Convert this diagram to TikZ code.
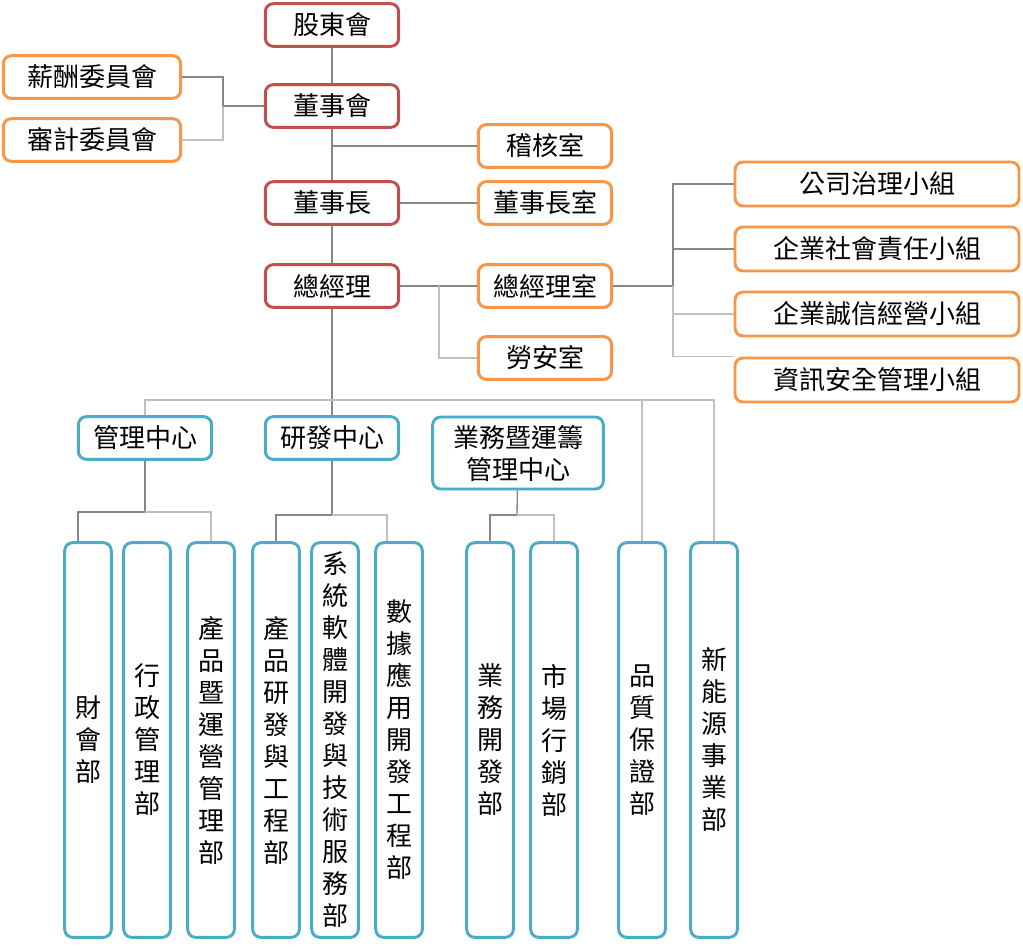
\documentclass[tikz,border=0pt]{standalone}
\usepackage{fontspec}
\setmainfont{Noto Sans CJK TC}
\usepackage{tikz}
\definecolor{boardred}{RGB}{192,80,77}
\definecolor{unitorange}{RGB}{247,150,70}
\definecolor{deptblue}{RGB}{75,172,198}
\definecolor{linegray}{RGB}{134,134,134}
\definecolor{linelight}{RGB}{192,192,192}
\tikzset{
  base/.style    = {draw, line width=2.2pt, rounded corners=6pt, fill=white,
                    inner sep=0pt, align=center,
                    font=\fontsize{19.5}{24}\selectfont},
  redbox/.style  = {base, draw=boardred, minimum width=100pt, minimum height=32pt},
  obox/.style    = {base, draw=unitorange, minimum width=100pt, minimum height=32pt},
  owide/.style   = {base, draw=unitorange, minimum width=133pt, minimum height=32pt},
  ogroup/.style  = {base, draw=unitorange, minimum width=213pt, minimum height=33pt},
  cbox/.style    = {base, draw=deptblue, minimum width=100pt, minimum height=32pt},
  dept/.style    = {base, draw=deptblue, minimum width=35pt, minimum height=296pt},
  ln/.style      = {draw=linegray, line width=1pt},
  lnl/.style     = {draw=linelight, line width=1pt}
}

\begin{document}
\begin{tikzpicture}[x=0.75pt, y=-0.75pt]
\useasboundingbox (0,0) rectangle (1023,949);

%% board level
\node[redbox] (sh)    at (332, 25)  {股東會};
\node[redbox] (bod)   at (332,106)  {董事會};
\node[redbox] (chair) at (332,203)  {董事長};
\node[redbox] (ceo)   at (332,286)  {總經理};

\node[owide] (comp) at (92, 77) {薪酬委員會};
\node[owide] (audc) at (92,140) {審計委員會};

\node[obox] (audit)    at (545,146) {稽核室};
\node[obox] (chairoff) at (545,203) {董事長室};
\node[obox] (ceooff)   at (545,286) {總經理室};
\node[obox] (labor)    at (545,358) {勞安室};

\node[ogroup] (cg)  at (877,184) {公司治理小組};
\node[ogroup] (csr) at (877,249) {企業社會責任小組};
\node[ogroup] (ie)  at (877,314) {企業誠信經營小組};
\node[ogroup] (isg) at (877,380) {資訊安全管理小組};

%% centers
\node[cbox] (mgmt) at (145,438) {管理中心};
\node[cbox] (rd)   at (332,438) {研發中心};
\node[cbox, minimum width=128pt, minimum height=54pt] (biz) at (518,453) {業務暨運籌\\管理中心};

%% departments
\node[dept] (fin)  at ( 88,740) {財\\會\\部};
\node[dept] (adm)  at (147,740) {行\\政\\管\\理\\部};
\node[dept] (pom)  at (211,740) {產\\品\\暨\\運\\營\\管\\理\\部};
\node[dept] (prd)  at (276,740) {產\\品\\研\\發\\與\\工\\程\\部};
\node[dept] (sys)  at (335,740) {系\\統\\軟\\體\\開\\發\\與\\技\\術\\服\\務\\部};
\node[dept] (data) at (399,740) {數\\據\\應\\用\\開\\發\\工\\程\\部};
\node[dept] (bd)   at (490,740) {業\\務\\開\\發\\部};
\node[dept] (mkt)  at (554,740) {市\\場\\行\\銷\\部};
\node[dept] (qa)   at (642,740) {品\\質\\保\\證\\部};
\node[dept] (ne)   at (714,740) {新\\能\\源\\事\\業\\部};

%% junctions
\coordinate (cj) at (223,106);
\coordinate (lj) at (439,286);
\coordinate (gj) at (673,286);
\coordinate (hj) at (332,400);
\coordinate (mj) at (145,512);
\coordinate (rj) at (332,515);
\coordinate (bj) at (517,515);

%% top chain
\draw[ln] (sh) -- (bod);
\draw[ln] (bod) -- (chair);
\draw[ln] (chair) -- (ceo);
\draw[ln] (audit.west) -- (audit.west -| bod);
\draw[ln] (chair) -- (chairoff);
\draw[ln] (comp.east) -| (cj);
\draw[lnl] (audc.east) -| (cj);
\draw[ln] (cj) -- (bod.west);

%% ceo office and groups
\draw[ln] (ceo) -- (ceooff);
\draw[lnl] (labor.west) -| (lj);
\draw[ln] (ceooff) -- (gj);
\draw[ln] (gj) |- (cg.west);
\draw[ln] (gj) |- (csr.west);
\draw[lnl] (gj) |- (ie.west);
\draw[lnl] (gj) |- (isg.north west);

%% centers
\draw[ln] (ceo) -- (rd);
\draw[lnl] (mgmt.north) |- (hj);
\draw[lnl] (hj) -| (qa.north);
\draw[lnl] (hj) -| (ne.north);

%% departments
\draw[ln] (mgmt) -- (mj);
\draw[ln] ([xshift=-7.5pt]fin.north) |- (mj);
\draw[lnl] (mj) -| (pom.north);
\draw[ln] (rd) -- (rj);
\draw[ln] (prd.north) |- (rj);
\draw[lnl] (rj) -| ([xshift=-9pt]data.north);
\draw[ln] (biz) -- (bj);
\draw[ln] (bd.north) |- (bj);
\draw[lnl] (bj) -| (mkt.north);

\end{tikzpicture}
\end{document}
